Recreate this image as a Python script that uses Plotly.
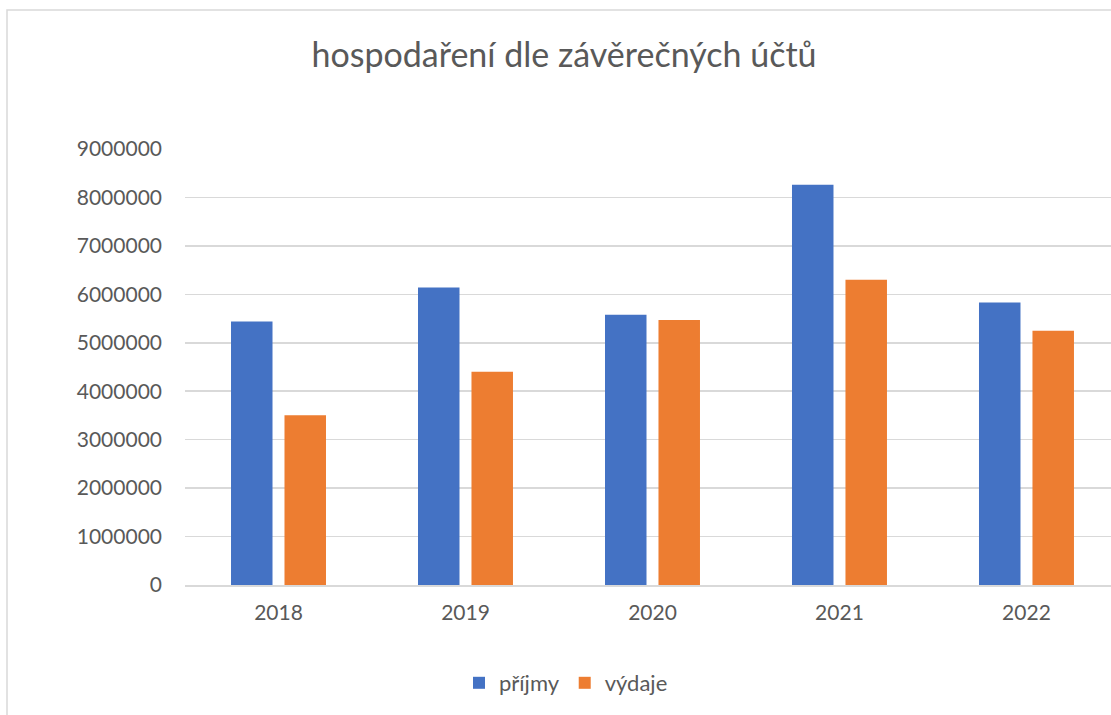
import plotly.graph_objects as go

years = ["2018", "2019", "2020", "2021", "2022"]
prijmy = [5440000, 6140000, 5580000, 8260000, 5830000]
vydaje = [3505000, 4400000, 5470000, 6300000, 5250000]
y_ticks = [0, 1000000, 2000000, 3000000, 4000000, 5000000, 6000000, 7000000, 8000000, 9000000]

FONT = "Lato"
GREY = "#595959"

fig = go.Figure()
fig.add_trace(go.Bar(x=years, y=prijmy, name="příjmy", marker=dict(color="#4472C4", line=dict(width=0))))
fig.add_trace(go.Bar(x=years, y=vydaje, name="výdaje", marker=dict(color="#ED7D31", line=dict(width=0))))

fig.update_layout(
    width=1111, height=715,
    margin=dict(l=185, r=0, t=149, b=130),
    paper_bgcolor="white", plot_bgcolor="white",
    font=dict(family=FONT, color=GREY, size=21),
    title=dict(text="hospodaření dle závěrečných účtů", x=564 / 1111, xanchor="center",
               y=1 - 55 / 715, yanchor="middle", xref="container", yref="container",
               font=dict(family=FONT, size=34, color=GREY)),
    barmode="group", bargap=0.428, bargroupgap=0.224,
    showlegend=True,
    legend=dict(orientation="h", xref="container", yref="container",
                x=566 / 1111, xanchor="center", y=1 - 683 / 715, yanchor="middle",
                font=dict(family=FONT, size=22, color=GREY), itemwidth=30,
                traceorder="normal"),
    hovermode=False,
)
fig.update_xaxes(range=[-0.5, 4.452], showgrid=False, showline=True, linecolor="#D9D9D9",
                 linewidth=1.5, ticks="", ticklabelstandoff=8,
                 tickfont=dict(family=FONT, size=21, color=GREY))
fig.update_yaxes(range=[0, 9000000], tickvals=y_ticks, ticktext=[str(v) for v in y_ticks],
                 showgrid=True, gridcolor="#D9D9D9", gridwidth=1.5, zeroline=False,
                 showline=False, ticks="", ticklabelstandoff=22,
                 tickfont=dict(family=FONT, size=21, color=GREY))
fig.add_shape(type="rect", xref="paper", yref="paper",
              x0=(7 - 185) / 926, x1=1.1, y0=-0.5, y1=(585 - 10) / 436,
              line=dict(color="#D9D9D9", width=1.5), fillcolor="rgba(0,0,0,0)", layer="below")

fig.write_html("out.html", config={"displayModeBar": False, "staticPlot": True},
               post_script="document.body.style.margin='0';")
